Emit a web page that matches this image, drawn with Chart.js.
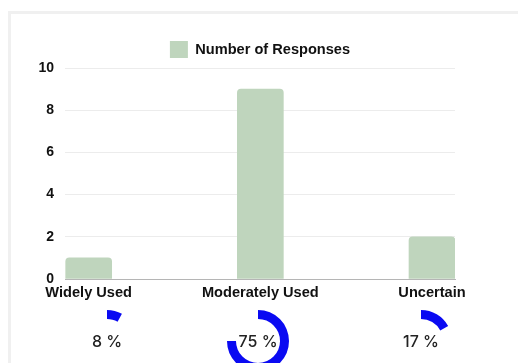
<!DOCTYPE html>
<html>
<head>
<meta charset="utf-8">
<script src="https://cdn.jsdelivr.net/npm/chart.js@4.4.1/dist/chart.umd.min.js"></script>
<style>
  html, body { margin: 0; padding: 0; background: #ffffff; width: 518px; height: 363px; overflow: hidden; position: relative; }
  #card { position: absolute; left: 8px; top: 11px; width: 700px; height: 500px; border-top: 3px solid #f0f0f0; border-left: 3px solid #f0f0f0; box-sizing: border-box; }
  #barWrap { position: absolute; left: 0; top: 0; width: 518px; height: 301px; }
  .gauge { position: absolute; width: 70px; height: 70px; }
  .gauge canvas { position: absolute; left: 0; top: 0; }
  .pct { position: absolute; left: 0; top: 0; width: 70px; height: 70px; line-height: 70px; text-align: center;
         font-family: Inter, "Open Sans", sans-serif; font-weight: 500; font-size: 16px; color: #222; }
</style>
</head>
<body>
<div id="card"></div>
<div id="barWrap"><canvas id="bar" width="518" height="301"></canvas></div>
<div class="gauge" id="g0" style="left:72px; top:306px;"><canvas id="d0" width="70" height="70"></canvas><div class="pct" id="p0"></div></div>
<div class="gauge" id="g1" style="left:223px; top:306px;"><canvas id="d1" width="70" height="70"></canvas><div class="pct" id="p1"></div></div>
<div class="gauge" id="g2" style="left:386px; top:306px;"><canvas id="d2" width="70" height="70"></canvas><div class="pct" id="p2"></div></div>
<script>
// ---- data ----
const categories = ["Widely Used", "Moderately Used", "Uncertain"];
const responses = [1, 9, 2];
const percentages = [8, 75, 17];
const seriesLabel = "Number of Responses";
const yTicks = [0, 2, 4, 6, 8, 10];

const barColor = "#bfd5bd";
const gaugeColor = "#0a0af2";
const labelFont = "'Liberation Sans', Arial, sans-serif";

new Chart(document.getElementById("bar"), {
  type: "bar",
  data: {
    datasets: [{
      label: seriesLabel,
      data: responses.map((v, i) => ({ x: i, y: v })),
      backgroundColor: barColor,
      borderWidth: 0,
      borderRadius: 4,
      barThickness: 46
    }]
  },
  options: {
    responsive: false,
    animation: false,
    events: [],
    layout: { padding: { top: 31, right: 63, bottom: 0, left: 0 } },
    plugins: {
      legend: {
        display: true,
        fullSize: false,
        labels: {
          boxWidth: 18, boxHeight: 17, padding: 10,
          color: "#111",
          font: { family: labelFont, weight: "bold", size: 14.6 }
        }
      },
      tooltip: { enabled: false }
    },
    scales: {
      x: {
        type: "linear",
        offset: false,
        min: -0.138,
        max: 2.134,
        grid: { display: false, drawTicks: false },
        border: { display: true, color: "#b5b5b5", width: 1 },
        afterBuildTicks: (scale) => { scale.ticks = categories.map((c, i) => ({ value: i })); },
        afterFit: (scale) => { scale.height = 22; },
        ticks: {
          autoSkip: false, maxRotation: 0, padding: 5,
          color: "#111",
          font: { family: labelFont, weight: "bold", size: 14.6 },
          callback: (v) => categories[v]
        }
      },
      y: {
        min: 0,
        max: 10,
        grid: { color: "#ececec", drawTicks: false },
        border: { display: false },
        afterBuildTicks: (scale) => { scale.ticks = yTicks.map(v => ({ value: v })); },
        afterFit: (scale) => { scale.width = 65; },
        ticks: {
          padding: 11,
          color: "#111",
          font: { family: labelFont, weight: "bold", size: 14 }
        }
      }
    }
  }
});

percentages.forEach((p, i) => {
  document.getElementById("p" + i).textContent = p + " %";
  new Chart(document.getElementById("d" + i), {
    type: "doughnut",
    data: {
      labels: [categories[i], ""],
      datasets: [{
        data: [p, 100 - p],
        backgroundColor: [gaugeColor, "rgba(0,0,0,0)"],
        borderWidth: 0
      }]
    },
    options: {
      responsive: false,
      animation: false,
      events: [],
      cutout: "71%",
      layout: { padding: 4 },
      plugins: { legend: { display: false }, tooltip: { enabled: false } }
    }
  });
});
</script>
</body>
</html>
